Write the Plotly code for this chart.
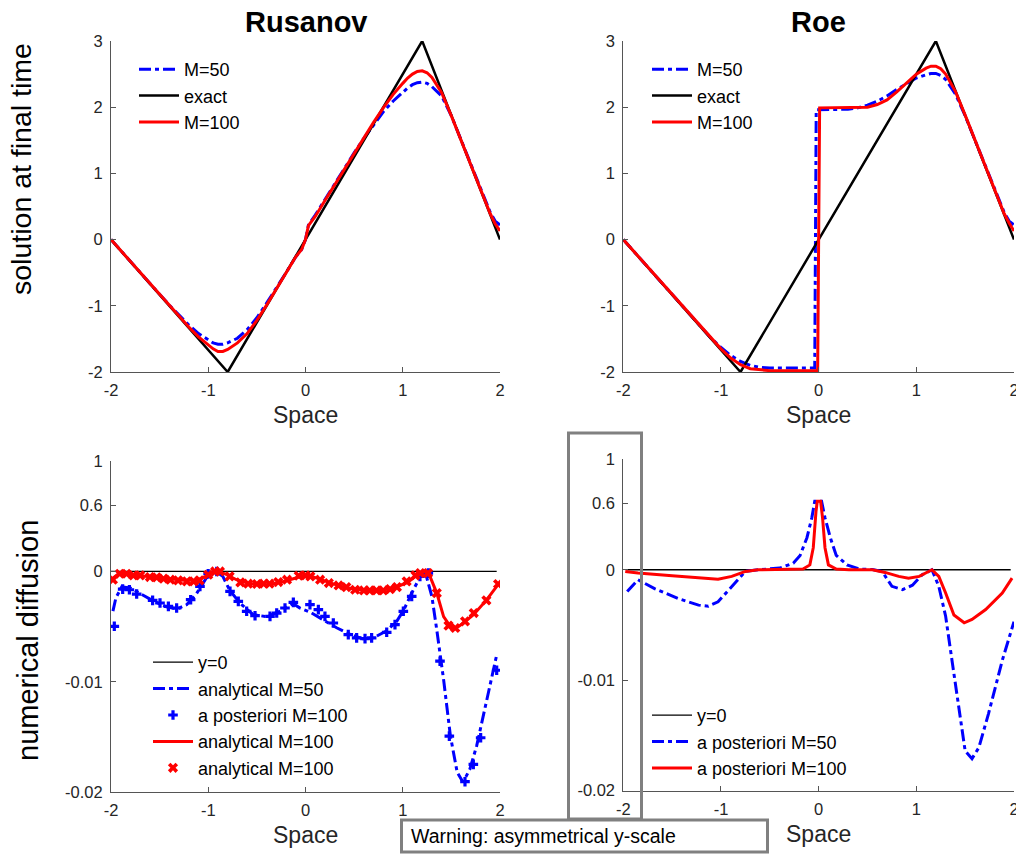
import plotly.graph_objects as go

# ---------------- data ----------------
# exact solution (piecewise linear)
x_exact = [-2.0, -0.8, 1.2, 2.0]
y_exact = [0.0, -2.0, 3.0, 0.0]

# Rusanov, top-left
x_rus = [-2.0, -1.9, -1.8, -1.7, -1.6, -1.5, -1.4, -1.3, -1.2, -1.1, -1.0, -0.95, -0.9, -0.85,
         -0.8, -0.75, -0.7, -0.6, -0.5, -0.4, -0.3, -0.2, -0.1, -0.04, 0.0, 0.03, 0.1, 0.2, 0.3,
         0.4, 0.5, 0.6, 0.7, 0.8, 0.9, 1.0, 1.05, 1.1, 1.15, 1.2, 1.25, 1.3, 1.35, 1.4, 1.5,
         1.6, 1.7, 1.8, 1.9, 1.95, 2.0]
rus_m50 = [0.0, -0.167, -0.333, -0.5, -0.665, -0.83, -0.99, -1.14, -1.29, -1.42, -1.52, -1.56,
           -1.58, -1.58, -1.56, -1.53, -1.49, -1.36, -1.18, -0.96, -0.74, -0.5, -0.26, -0.15,
           0.0, 0.22, 0.37, 0.61, 0.85, 1.08, 1.31, 1.53, 1.74, 1.93, 2.09, 2.23, 2.29, 2.34,
           2.37, 2.38, 2.36, 2.31, 2.24, 2.17, 1.87, 1.5, 1.13, 0.77, 0.41, 0.28, 0.22]
rus_m100 = [0.0, -0.167, -0.333, -0.5, -0.667, -0.833, -1.0, -1.16, -1.32, -1.47, -1.59, -1.65,
            -1.69, -1.69, -1.66, -1.61, -1.56, -1.42, -1.22, -0.99, -0.75, -0.5, -0.26, -0.15,
            0.0, 0.21, 0.35, 0.59, 0.83, 1.07, 1.31, 1.54, 1.77, 1.99, 2.19, 2.36, 2.44, 2.5,
            2.54, 2.55, 2.52, 2.45, 2.34, 2.22, 1.87, 1.5, 1.13, 0.76, 0.39, 0.24, 0.13]

# Roe, top-right
x_roe_m50 = [-2.0, -1.8, -1.6, -1.4, -1.2, -1.1, -1.0, -0.9, -0.8, -0.7, -0.6, -0.5, -0.3, -0.1,
             -0.04, -0.025, 0.1, 0.2, 0.3, 0.4, 0.5, 0.6, 0.7, 0.8, 0.9, 1.0, 1.1, 1.15, 1.2,
             1.25, 1.3, 1.4, 1.5, 1.6, 1.7, 1.8, 1.9, 1.95, 2.0]
roe_m50 = [0.0, -0.333, -0.667, -1.0, -1.33, -1.49, -1.63, -1.75, -1.84, -1.9, -1.93, -1.94,
           -1.94, -1.94, -1.94, 1.96, 1.96, 1.96, 1.97, 1.99, 2.03, 2.09, 2.17, 2.27, 2.36, 2.44,
           2.49, 2.51, 2.51, 2.48, 2.42, 2.2, 1.87, 1.5, 1.13, 0.77, 0.41, 0.28, 0.22]
x_roe_m100 = [-2.0, -1.8, -1.6, -1.4, -1.2, -1.1, -1.0, -0.9, -0.8, -0.7, -0.6, -0.5, -0.3, -0.1,
              -0.01, 0.01, 0.1, 0.2, 0.3, 0.4, 0.5, 0.6, 0.7, 0.8, 0.9, 1.0, 1.1, 1.15, 1.2,
              1.25, 1.3, 1.4, 1.5, 1.6, 1.7, 1.8, 1.9, 1.95, 2.0]
roe_m100 = [0.0, -0.333, -0.667, -1.0, -1.333, -1.5, -1.65, -1.79, -1.89, -1.95, -1.97, -1.98,
            -1.98, -1.98, -1.98, 1.99, 1.99, 1.99, 1.99, 1.99, 2.0, 2.04, 2.11, 2.23, 2.37, 2.5,
            2.59, 2.62, 2.62, 2.58, 2.5, 2.24, 1.88, 1.51, 1.13, 0.76, 0.39, 0.25, 0.13]

# numerical diffusion, Rusanov (bottom-left)
x_zero_l = [-2.0, 1.966]
x_an50 = [-1.98, -1.95, -1.89, -1.80, -1.70, -1.56, -1.43, -1.32, -1.22, -1.12, -1.02, -0.92,
          -0.85, -0.78, -0.67, -0.54, -0.40, -0.26, -0.13, -0.06, 0.05, 0.18, 0.32, 0.46, 0.59,
          0.70, 0.83, 0.94, 1.01, 1.09, 1.18, 1.23, 1.30, 1.35, 1.42, 1.49, 1.56, 1.62, 1.69,
          1.76, 1.86, 1.97]
an50 = [-0.0036, -0.0024, -0.0014, -0.0015, -0.0020, -0.0027, -0.0032, -0.0034, -0.0030,
        -0.0020, -0.0006, 0.0, -0.00045, -0.0017, -0.0029, -0.0039, -0.0041, -0.0036, -0.0029,
        -0.0033, -0.0037, -0.0044, -0.0051, -0.0057, -0.0061, -0.0060, -0.0054, -0.0045,
        -0.0035, -0.0020, -0.00045, 0.0, -0.0023, -0.0053, -0.0098, -0.0149, -0.0182, -0.0191,
        -0.0179, -0.0158, -0.0119, -0.0074]
x_ap100 = [-1.966, -1.880, -1.811, -1.736, -1.572, -1.496, -1.410, -1.325, -1.181, -1.085,
           -1.001, -0.913, -0.776, -0.691, -0.605, -0.519, -0.365, -0.296, -0.211, -0.125,
           0.046, 0.132, 0.200, 0.286, 0.440, 0.526, 0.612, 0.680, 0.835, 0.920, 1.006, 1.092,
           1.177, 1.263, 1.383, 1.479, 1.640, 1.726, 1.801, 1.966]
ap100 = [-0.00497, -0.00160, -0.00166, -0.00205, -0.00262, -0.00286, -0.00316, -0.00331,
         -0.00256, -0.00136, -0.00021, 0.0, -0.00181, -0.00271, -0.00361, -0.00401, -0.00407,
         -0.00377, -0.00331, -0.00280, -0.00301, -0.00346, -0.00407, -0.00467, -0.00572,
         -0.00602, -0.00608, -0.00602, -0.00551, -0.00482, -0.00361, -0.00226, -0.00045,
         -0.00015, -0.00813, -0.01491, -0.01904, -0.01747, -0.01506, -0.00895]
x_an100 = [-2.0, -1.92, -1.8, -1.6, -1.4, -1.25, -1.12, -1.02, -0.91, -0.82, -0.71, -0.58, -0.40,
           -0.26, -0.12, -0.02, 0.08, 0.22, 0.36, 0.50, 0.63, 0.77, 0.91, 1.05, 1.15, 1.23,
           1.28, 1.35, 1.42, 1.49, 1.54, 1.62, 1.73, 1.86, 1.98]
an100 = [-0.00075, -0.0002, -0.0003, -0.0005, -0.0007, -0.0008, -0.0008, -0.00045, 0.0,
         -0.00024, -0.00075, -0.0011, -0.0012, -0.001, -0.00066, -0.0004, -0.0005, -0.0009,
         -0.00135, -0.0016, -0.0017, -0.0017, -0.0015, -0.001, -0.0003, 0.0, -0.00045,
         -0.00196, -0.0041, -0.0050, -0.0052, -0.0047, -0.0039, -0.0026, -0.0012]
x_an100_pts = [-1.98, -1.91, -1.84, -1.77, -1.70, -1.60, -1.53, -1.46, -1.39, -1.31, -1.22,
               -1.15, -1.09, -1.00, -0.93, -0.88, -0.78, -0.67, -0.59, -0.50, -0.43, -0.37,
               -0.28, -0.19, -0.07, 0.00, 0.05, 0.15, 0.24, 0.34, 0.42, 0.51, 0.60, 0.66, 0.73,
               0.80, 0.87, 0.94, 1.04, 1.13, 1.18, 1.26, 1.35, 1.47, 1.54, 1.64, 1.73, 1.86, 1.98]
an100_pts = [-0.00075, -0.00021, -0.00021, -0.00036, -0.00036, -0.00051, -0.00054, -0.00066,
             -0.00075, -0.00081, -0.0009, -0.0009, -0.00081, -0.0003, 0.0, 0.0, -0.00045,
             -0.00099, -0.00111, -0.00114, -0.00111, -0.00111, -0.00096, -0.00075, -0.00039,
             -0.00036, -0.00045, -0.00075, -0.00105, -0.00127, -0.00142, -0.00166, -0.00172,
             -0.00172, -0.00172, -0.00172, -0.0016, -0.00142, -0.0009, -0.00036, -0.00015,
             -0.00015, -0.00196, -0.00491, -0.00512, -0.00452, -0.00377, -0.00262, -0.00114]

# numerical diffusion, Roe (bottom-right)
x_zero_r = [-1.966, 1.966]
x_roe_ap50 = [-1.96, -1.85, -1.68, -1.44, -1.23, -1.13, -1.03, -0.89, -0.75, -0.62, -0.40, -0.26,
              -0.19, -0.12, -0.07, -0.04, 0.03, 0.065, 0.12, 0.18, 0.29, 0.42, 0.55, 0.65, 0.75,
              0.86, 0.96, 1.06, 1.16, 1.23, 1.30, 1.37, 1.44, 1.50, 1.57, 1.64, 1.74, 1.88, 2.0]
roe_ap50 = [-0.00197, -0.0009, -0.0017, -0.0026, -0.0032, -0.0033, -0.0029, -0.0015, -0.00015,
            0.0, 0.015, 0.06, 0.13, 0.29, 0.47, 0.62, 0.62, 0.47, 0.29, 0.13, 0.044, 0.006,
            0.003, -0.00015, -0.0015, -0.0018, -0.0014, -0.00045, 0.0, -0.0015, -0.0042,
            -0.0085, -0.0130, -0.0164, -0.0171, -0.0161, -0.0130, -0.0082, -0.0047]
x_roe_ap100 = [-1.98, -1.85, -1.50, -1.16, -1.03, -0.89, -0.75, -0.62, -0.31, -0.16, -0.09,
               -0.055, -0.027, -0.014, 0.02, 0.04, 0.065, 0.10, 0.18, 0.31, 0.55, 0.68, 0.82,
               0.92, 1.03, 1.16, 1.23, 1.30, 1.385, 1.49, 1.57, 1.71, 1.88, 1.98]
roe_ap100 = [-0.00015, -0.0003, -0.00055, -0.00076, -0.00085, -0.0006, -0.00015, 0.0, 0.0,
             0.006, 0.044, 0.2, 0.53, 0.62, 0.62, 0.47, 0.2, 0.044, 0.006, 0.0, 0.0, -0.00024,
             -0.0006, -0.00076, -0.0006, 0.0, -0.0006, -0.0021, -0.0041, -0.0048, -0.0045,
             -0.0036, -0.0021, -0.00076]

# tick labels
x_ticks = [-2, -1, 0, 1, 2]
top_y_ticks = [-2, -1, 0, 1, 2, 3]
bot_y_tick_values = [-0.02, -0.01, 0.0, 0.6, 1.0]
bot_y_tick_labels = ["-0.02", "-0.01", "0", "0.6", "1"]


# asymmetrical y-scale: positive values compressed by a factor 100
def asym(values):
    return [v if v < 0 else v / 100.0 for v in values]


# ---------------- figure ----------------
W, H = 1016, 854
FONT = "Liberation Sans, Arial, Helvetica, sans-serif"
BLUE = "#0000ff"
RED = "#ff0000"
BLACK = "#000000"
DASHDOT = "12px,4px,4px,4px"


def px(x):
    return x / W


def py(y):
    return 1 - y / H


fig = go.Figure()

# top-left: Rusanov
fig.add_trace(go.Scatter(x=x_rus, y=rus_m50, mode="lines", name="M=50",
                         line=dict(color=BLUE, width=3, dash=DASHDOT),
                         xaxis="x", yaxis="y", legend="legend"))
fig.add_trace(go.Scatter(x=x_exact, y=y_exact, mode="lines", name="exact",
                         line=dict(color=BLACK, width=2.5),
                         xaxis="x", yaxis="y", legend="legend"))
fig.add_trace(go.Scatter(x=x_rus, y=rus_m100, mode="lines", name="M=100",
                         line=dict(color=RED, width=3),
                         xaxis="x", yaxis="y", legend="legend"))

# top-right: Roe
fig.add_trace(go.Scatter(x=x_roe_m50, y=roe_m50, mode="lines", name="M=50",
                         line=dict(color=BLUE, width=3, dash=DASHDOT),
                         xaxis="x2", yaxis="y2", legend="legend2"))
fig.add_trace(go.Scatter(x=x_exact, y=y_exact, mode="lines", name="exact",
                         line=dict(color=BLACK, width=2.5),
                         xaxis="x2", yaxis="y2", legend="legend2"))
fig.add_trace(go.Scatter(x=x_roe_m100, y=roe_m100, mode="lines", name="M=100",
                         line=dict(color=RED, width=3),
                         xaxis="x2", yaxis="y2", legend="legend2"))

# bottom-left: numerical diffusion Rusanov
fig.add_trace(go.Scatter(x=x_zero_l, y=[0, 0], mode="lines", name="y=0",
                         line=dict(color=BLACK, width=1.3),
                         xaxis="x3", yaxis="y3", legend="legend3"))
fig.add_trace(go.Scatter(x=x_an50, y=asym(an50), mode="lines", name="analytical M=50",
                         line=dict(color=BLUE, width=3, dash=DASHDOT),
                         xaxis="x3", yaxis="y3", legend="legend3"))
fig.add_trace(go.Scatter(x=x_ap100, y=asym(ap100), mode="markers", name="a posteriori M=100",
                         marker=dict(symbol="cross", size=8, color=BLUE, line=dict(width=0)),
                         xaxis="x3", yaxis="y3", legend="legend3"))
fig.add_trace(go.Scatter(x=x_an100, y=asym(an100), mode="lines", name="analytical M=100",
                         line=dict(color=RED, width=3),
                         xaxis="x3", yaxis="y3", legend="legend3"))
fig.add_trace(go.Scatter(x=x_an100_pts, y=asym(an100_pts), mode="markers", name="analytical M=100",
                         marker=dict(symbol="x", size=9, color=RED, line=dict(width=0)),
                         xaxis="x3", yaxis="y3", legend="legend3"))

# bottom-right: numerical diffusion Roe
fig.add_trace(go.Scatter(x=x_zero_r, y=[0, 0], mode="lines", name="y=0",
                         line=dict(color=BLACK, width=1.3),
                         xaxis="x4", yaxis="y4", legend="legend4"))
fig.add_trace(go.Scatter(x=x_roe_ap50, y=asym(roe_ap50), mode="lines", name="a posteriori M=50",
                         line=dict(color=BLUE, width=3, dash=DASHDOT),
                         xaxis="x4", yaxis="y4", legend="legend4"))
fig.add_trace(go.Scatter(x=x_roe_ap100, y=asym(roe_ap100), mode="lines", name="a posteriori M=100",
                         line=dict(color=RED, width=3),
                         xaxis="x4", yaxis="y4", legend="legend4"))

AX_COLOR = "#555555"
TICK_FONT = dict(family=FONT, size=16.5, color="#262626")


def xaxis(domain, anchor):
    return dict(domain=domain, anchor=anchor, range=[-2, 2], tickvals=x_ticks,
                ticktext=[str(t) for t in x_ticks], showline=True, linecolor=AX_COLOR,
                linewidth=1, ticks="inside", ticklen=5, tickcolor=AX_COLOR, showgrid=False,
                zeroline=False, tickfont=TICK_FONT, ticklabelstandoff=3, automargin=False,
                ticklabeloverflow="allow")


def yaxis_top(domain, anchor):
    return dict(domain=domain, anchor=anchor, range=[-2, 3], tickvals=top_y_ticks,
                ticktext=[str(t) for t in top_y_ticks], showline=True, linecolor=AX_COLOR,
                linewidth=1, ticks="inside", ticklen=5, tickcolor=AX_COLOR, showgrid=False,
                zeroline=False, tickfont=TICK_FONT, ticklabelstandoff=4, automargin=False,
                ticklabeloverflow="allow")


def yaxis_bot(domain, anchor):
    return dict(domain=domain, anchor=anchor, range=[-0.02, 0.01],
                tickvals=asym(bot_y_tick_values), ticktext=bot_y_tick_labels, showline=True,
                linecolor=AX_COLOR, linewidth=1, ticks="inside", ticklen=5, tickcolor=AX_COLOR,
                showgrid=False, zeroline=False, tickfont=TICK_FONT, ticklabelstandoff=4,
                automargin=False, ticklabeloverflow="allow")


xl = [px(111), px(500)]
xr = [px(623.3), px(1014)]
yt = [py(372), py(41)]
ybl = [py(792.3), py(461)]
ybr = [py(790.7), py(459.3)]

LEG_FONT = dict(family=FONT, size=18, color="#000000")


def legend(x, y):
    return dict(x=px(x), y=py(y), xanchor="left", yanchor="top", xref="paper", yref="paper",
                bgcolor="rgba(0,0,0,0)", borderwidth=0, font=LEG_FONT, itemwidth=40,
                tracegroupgap=0)


fig.update_layout(
    width=W, height=H, margin=dict(l=0, r=0, t=0, b=0, pad=0, autoexpand=False),
    paper_bgcolor="white", plot_bgcolor="white",
    font=dict(family=FONT),
    xaxis=xaxis(xl, "y"), yaxis=yaxis_top(yt, "x"),
    xaxis2=xaxis(xr, "y2"), yaxis2=yaxis_top(yt, "x2"),
    xaxis3=xaxis(xl, "y3"), yaxis3=yaxis_bot(ybl, "x3"),
    xaxis4=xaxis(xr, "y4"), yaxis4=yaxis_bot(ybr, "x4"),
    legend=legend(134, 51),
    legend2=legend(647, 51),
    legend3=legend(148, 644),
    legend4=legend(647, 697),
)

annotations = [
    dict(text="<b>Rusanov</b>", x=px(305.5), y=py(22), font=dict(size=29, color="black")),
    dict(text="<b>Roe</b>", x=px(818.5), y=py(22), font=dict(size=29, color="black")),
    dict(text="solution at final time", x=px(21), y=py(169), textangle=-90,
         font=dict(size=28.5, color="black")),
    dict(text="numerical diffusion", x=px(28), y=py(641), textangle=-90,
         font=dict(size=29, color="black")),
    dict(text="Space", x=px(305.5), y=py(415), font=dict(size=23, color="#262626")),
    dict(text="Space", x=px(818.5), y=py(415), font=dict(size=23, color="#262626")),
    dict(text="Space", x=px(305.5), y=py(835), font=dict(size=23, color="#262626")),
    dict(text="Space", x=px(818.5), y=py(834), font=dict(size=23, color="#262626")),
]
for a in annotations:
    a.update(xref="paper", yref="paper", xanchor="center", yanchor="middle", showarrow=False)
    a["font"]["family"] = FONT
fig.update_layout(annotations=annotations)

# warning frames
fig.add_shape(type="rect", xref="paper", yref="paper", x0=px(568.5), x1=px(641.5),
              y0=py(819), y1=py(433), line=dict(color="#808080", width=3),
              fillcolor="rgba(0,0,0,0)", layer="above")
fig.add_shape(type="rect", xref="paper", yref="paper", x0=px(401.5), x1=px(767.5),
              y0=py(852), y1=py(820), line=dict(color="#808080", width=3),
              fillcolor="white", layer="above")
fig.add_annotation(text="Warning: asymmetrical y-scale", xref="paper", yref="paper",
                   x=px(409), y=py(836), xanchor="left", yanchor="middle", showarrow=False,
                   font=dict(family=FONT, size=19.5, color="black"))

fig.write_html(
    "out.html",
    config={"displayModeBar": False},
    post_script="document.body.style.margin='0';document.body.style.overflow='hidden';",
)
